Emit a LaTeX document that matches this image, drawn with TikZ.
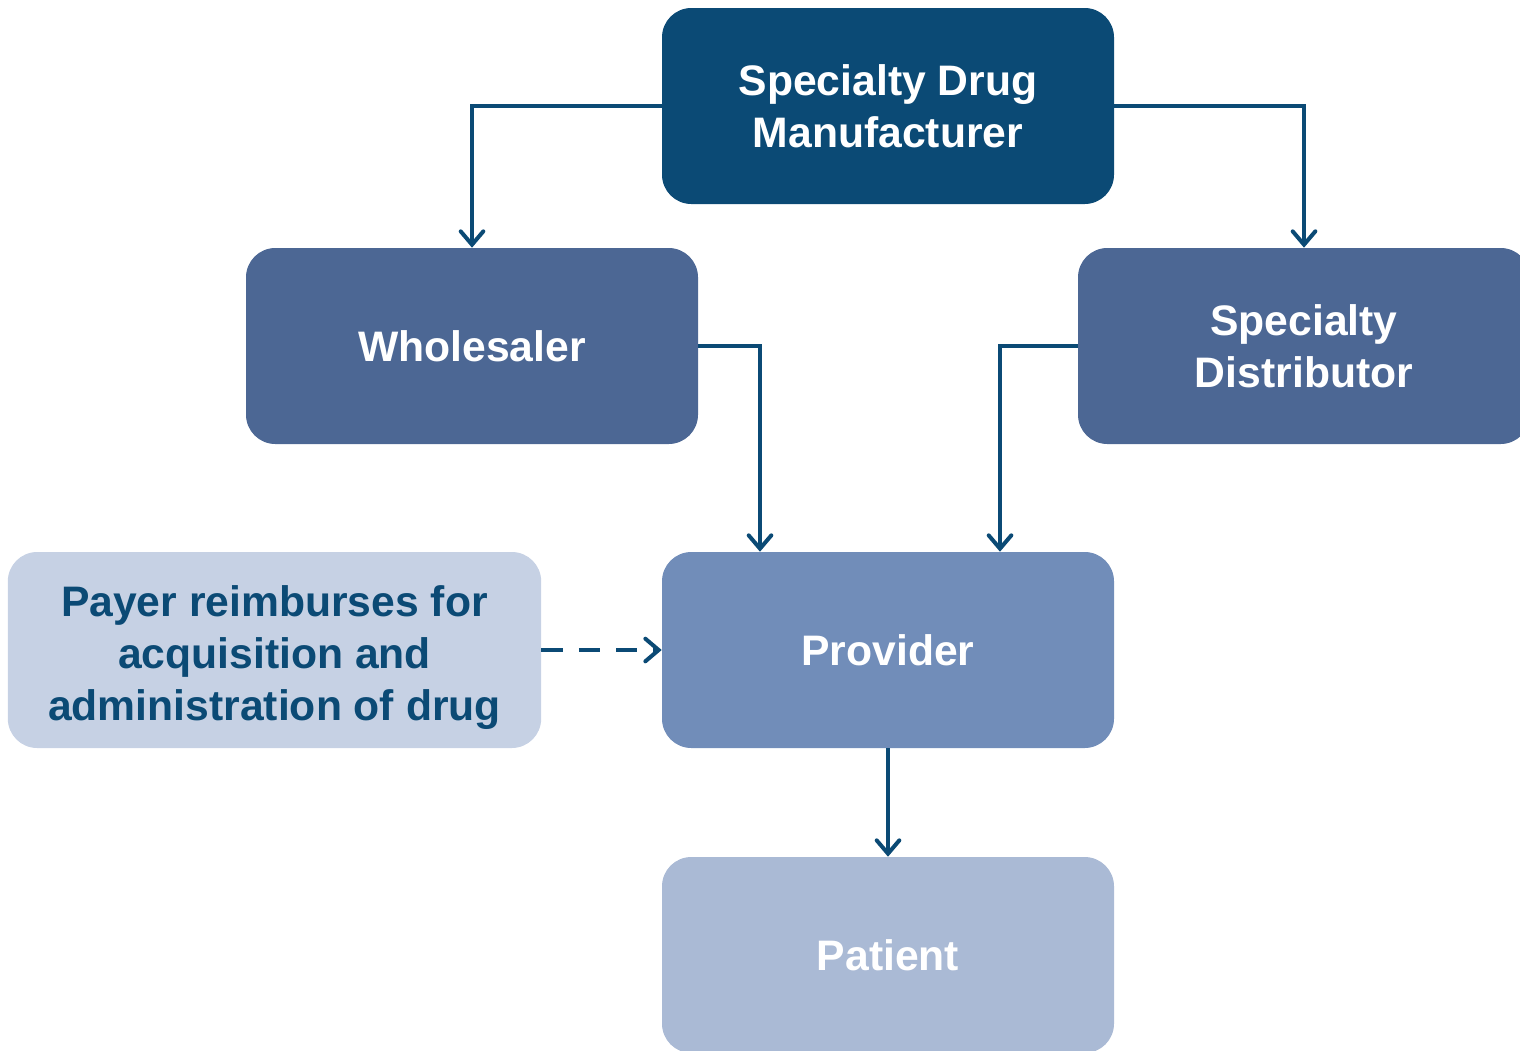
\documentclass[tikz,border=0pt]{standalone}
\usepackage{fontspec}
\setmainfont{Liberation Sans}
\usetikzlibrary{arrows.meta}
\definecolor{mfg}{HTML}{0B4A75}
\definecolor{dist}{HTML}{4C6794}
\definecolor{prov}{HTML}{718DB9}
\definecolor{pat}{HTML}{AABAD5}
\definecolor{payer}{HTML}{C6D1E4}
\begin{document}
\begin{tikzpicture}[x=0.75pt,y=-0.75pt,
  box/.style={rounded corners=22pt, minimum width=339pt, minimum height=147pt,
    inner sep=0pt, align=center, text=white,
    font=\fontsize{32}{39}\selectfont\bfseries},
  flow/.style={draw=mfg, line width=3pt,
    -{Straight Barb[length=10pt,width=17pt,line width=3pt,line cap=round]}},
  ]
\useasboundingbox (0,0) rectangle (1520,1050);
\node[box, fill=mfg] (mfr) at (888,106) {Specialty Drug\\Manufacturer};
\node[box, fill=dist] (whl) at (472,346) {Wholesaler};
\node[box, fill=dist] (spd) at (1304,346) {Specialty\\Distributor};
\node[box, fill=prov] (prv) at (888,650) {Provider};
\node[box, fill=pat] (pat) at (888,955) {Patient};
\node[box, fill=payer, text=mfg, minimum width=400pt] (pay) at (274.5,650)
  {\raisebox{-12pt}[0pt][0pt]{\begin{tabular}{@{}c@{}}Payer reimburses for\\acquisition and\\administration of drug\end{tabular}}};
\draw[flow] (mfr.west) -| (whl.north);
\draw[flow] (mfr.east) -| (spd.north);
\draw[flow] (whl.east) -| ([xshift=-96pt]prv.north);
\draw[flow] (spd.west) -| ([xshift=84pt]prv.north);
\draw[flow] (prv.south) -- (pat.north);
\draw[flow, dash pattern=on 16pt off 12pt] (pay.east) -- (prv.west);
\end{tikzpicture}
\end{document}
